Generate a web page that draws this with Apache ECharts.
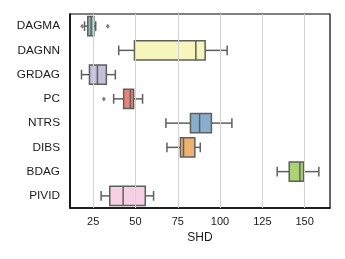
<!DOCTYPE html>
<html>
<head>
<meta charset="utf-8">
<script src="https://cdn.jsdelivr.net/npm/echarts@6/dist/echarts.min.js"></script>
<style>html,body{margin:0;padding:0;background:#fff;}#c{width:345px;height:259px;}</style>
</head>
<body>
<div id="c"></div>
<script>
const categories = ['DAGMA','DAGNN','GRDAG','PC','NTRS','DIBS','BDAG','PIVID'];
const whiskerLow  = [19.9, 40.1, 18.1, 37.1, 68.0, 68.6, 133.8, 29.7];
const q1          = [21.8, 49.4, 22.8, 43.0, 82.5, 76.6, 140.9, 34.8];
const median      = [23.8, 85.7, 27.5, 47.0, 87.9, 78.4, 147.2, 42.7];
const q3          = [25.4, 91.2, 32.8, 48.9, 94.9, 85.1, 149.4, 55.8];
const whiskerHigh = [26.5, 104.2, 38.1, 54.2, 107.0, 88.3, 158.4, 60.7];
const outlierValues = [18.5, 33.6, 31.3];
const outlierCats   = ['DAGMA', 'DAGMA', 'PC'];
const tickValues = [25, 50, 75, 100, 125, 150];
const boxColors = ['#8fb9b2','#f6f6bc','#c3c0d8','#e8837a','#88aecd','#eeb270','#abd273','#f5d0e3'];

const FONT = 'Liberation Sans, Arial, sans-serif';
const LINE = '#5f5f5f';

const boxData = categories.map((c, i) => [i, whiskerLow[i], q1[i], median[i], q3[i], whiskerHigh[i]]);
const outlierData = outlierValues.map((v, i) => [v, outlierCats[i]]);

function renderItem(params, api) {
  const ci = api.value(0);
  const pLo = api.coord([api.value(1), ci]);
  const pQ1 = api.coord([api.value(2), ci]);
  const pMed = api.coord([api.value(3), ci]);
  const pQ3 = api.coord([api.value(4), ci]);
  const pHi = api.coord([api.value(5), ci]);
  const bw = api.size([0, 1])[1] * 0.8;
  const y = pLo[1];
  const ls = {stroke: LINE, lineWidth: 1.5, fill: null};
  return {
    type: 'group',
    children: [
      {type: 'line', shape: {x1: pLo[0], y1: y, x2: pQ1[0], y2: y}, style: ls},
      {type: 'line', shape: {x1: pQ3[0], y1: y, x2: pHi[0], y2: y}, style: ls},
      {type: 'line', shape: {x1: pLo[0], y1: y - bw / 4, x2: pLo[0], y2: y + bw / 4}, style: ls},
      {type: 'line', shape: {x1: pHi[0], y1: y - bw / 4, x2: pHi[0], y2: y + bw / 4}, style: ls},
      {type: 'rect', shape: {x: pQ1[0], y: y - bw / 2, width: pQ3[0] - pQ1[0], height: bw},
        style: {fill: boxColors[ci], stroke: LINE, lineWidth: 1.5}},
      {type: 'line', shape: {x1: pMed[0], y1: y - bw / 2, x2: pMed[0], y2: y + bw / 2}, style: ls}
    ]
  };
}

const chart = echarts.init(document.getElementById('c'), null, {renderer: 'canvas'});
chart.setOption({
  animation: false,
  backgroundColor: '#fff',
  grid: {left: 70, top: 14, right: 15, bottom: 51, show: true, borderColor: '#000', borderWidth: 1.2, backgroundColor: 'transparent'},
  xAxis: {
    type: 'value', min: 11.3, max: 165,
    name: 'SHD', nameLocation: 'middle', nameGap: 22,
    nameTextStyle: {fontFamily: FONT, fontSize: 12, color: '#1a1a1a'},
    axisLine: {show: true, lineStyle: {color: '#000', width: 1.5}},
    axisTick: {show: false},
    splitLine: {show: false},
    axisLabel: {customValues: tickValues, fontFamily: FONT, fontSize: 11, color: '#1a1a1a', margin: 8}
  },
  yAxis: {
    type: 'category', data: categories, inverse: true,
    axisLine: {show: true, lineStyle: {color: '#000', width: 1.5}},
    axisTick: {show: false},
    splitLine: {show: false},
    axisLabel: {fontFamily: FONT, fontSize: 11.8, color: '#1a1a1a', margin: 10}
  },
  series: [
    {
      type: 'scatter', data: [], z: 1, silent: true,
      markLine: {
        silent: true, symbol: 'none', animation: false,
        label: {show: false},
        lineStyle: {color: '#d3d3d3', width: 1, type: 'solid'},
        data: tickValues.map(v => ({xAxis: v}))
      }
    },
    {
      type: 'custom', renderItem: renderItem, data: boxData, z: 3,
      encode: {x: [1, 2, 3, 4, 5], y: 0}
    },
    {
      type: 'scatter', data: outlierData, z: 4,
      symbol: 'diamond', symbolSize: [4, 5],
      itemStyle: {color: LINE}
    }
  ]
});
</script>
</body>
</html>
